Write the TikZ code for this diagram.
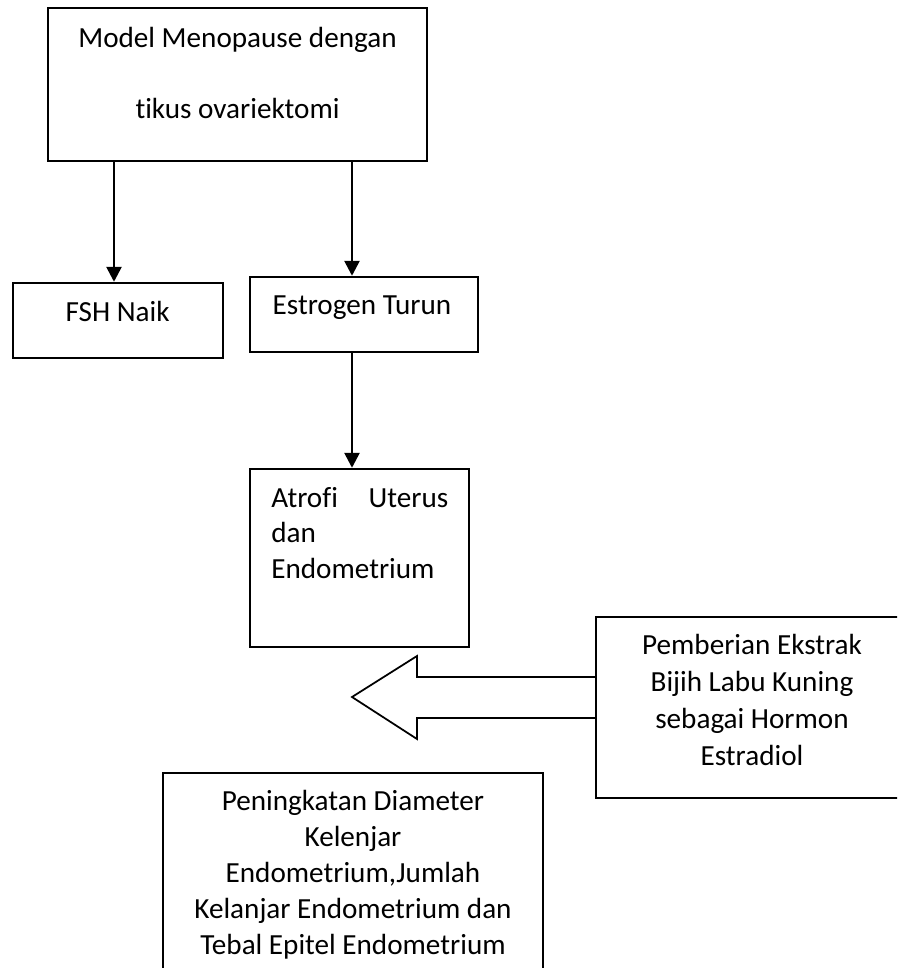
\documentclass[tikz,border=0pt]{standalone}
\usepackage{fontspec}
\setmainfont{Carlito}[Ligatures={NoCommon}]
\usetikzlibrary{arrows.meta,positioning,calc,fit}

\begin{document}
\begin{tikzpicture}[x=0.02cm, y=-0.02cm,
  box/.style={draw, line width=1.4pt, inner sep=0pt},
  txt/.style={inner sep=0pt, anchor=base, font=\fontsize{16.6}{20.4}\selectfont},
  arr/.style={line width=1.5pt, -{Triangle[length=0.3cm,width=0.3cm]}},
  hollow/.style={line width=1pt, line join=miter}]
  \clip (0,0) rectangle (897,968);

  % Boxes for the chart
  \node[box, fit={(48,8) (427,161)}] (model) {};
  \node[box, fit={(13,283) (223,358)}] (fsh) {};
  \node[box, fit={(250,277) (478,352)}] (estro) {};
  \node[box, fit={(250,469) (469,647)}] (atrofi) {};
  \node[box, fit={(596,617) (915,798)}] (ekstrak) {};
  \node[box, fit={(163,773) (543,990)}] (hasil) {};

  % Texts in the boxes (base = last line)
  \node[txt, align=center, font=\fontsize{16.6}{40.3}\selectfont] (modeltxt) at (237.5,118) {Model Menopause dengan\\tikus ovariektomi};
  \node[txt] (fshtxt) at (117.7,321) {FSH Naik};
  \node[txt] (estrotxt) at (362,314) {Estrogen Turun};
  \node[txt, align=left, text width=3.54cm, anchor=base west] (atrofitxt) at (271,507) {Atrofi\hfill Uterus\\dan\\Endometrium};
  \node[txt, align=center, font=\fontsize{16.6}{21}\selectfont] (ekstraktxt) at (752,765) {Pemberian Ekstrak\\Bijih Labu Kuning\\sebagai Hormon\\Estradiol};
  \node[txt, align=center] (hasiltxt) at (353,954) {Peningkatan Diameter\\Kelenjar\\Endometrium,Jumlah\\Kelanjar Endometrium dan\\Tebal Epitel Endometrium};

  % Arrows for the chart
  \coordinate (c1) at (114,0);
  \coordinate (c2) at (352,0);
  \path[arr]
    (c1 |- model.south) edge (c1 |- fsh.north)
    (c2 |- model.south) edge (c2 |- estro.north)
    (c2 |- estro.south) edge (c2 |- atrofi.north);

  % Hollow arrow from the extract box
  \coordinate (s1) at (417,677);
  \coordinate (s2) at (417,718);
  \coordinate (tip) at (352,697);
  \draw[hollow] (ekstrak.west |- s1) -- (s1) -- (417,656) -- (tip) -- (417,739) -- (s2) -- (ekstrak.west |- s2);
\end{tikzpicture}
\end{document}
